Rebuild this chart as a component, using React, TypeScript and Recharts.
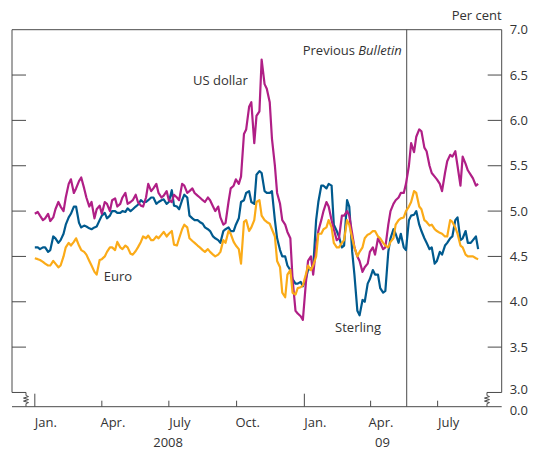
import React from 'react'
import { LineChart, Line, XAxis, YAxis, ReferenceLine, ReferenceDot } from 'recharts'

// x = days since 1 Jan 2008, y = per cent
// readings taken once a week, plus a second reading in mid-week
const days = [
  0, 7, 14, 21, 28, 35, 42, 49, 56, 63, 70, 77, 84, 91, 98, 105, 112, 119, 126, 133,
  140, 147, 154, 161, 168, 175, 182, 189, 196, 203, 210, 217, 224, 231, 238, 245, 252, 259, 266, 273,
  280, 287, 294, 301, 308, 315, 322, 329, 336, 343, 350, 357, 364, 371, 378, 385, 392, 399, 406, 413,
  420, 427, 434, 441, 448, 455, 462, 469, 476, 483, 490, 497, 504, 511, 518, 525, 532, 539, 546, 553,
  560, 567, 574, 581, 588, 595, 602,
]
const midDays = [
  4, 11, 18, 25, 32, 39, 46, 53, 60, 67, 74, 81, 88, 95, 102, 109, 116, 123, 130, 137,
  144, 151, 158, 165, 172, 179, 186, 193, 200, 207, 214, 221, 228, 235, 242, 249, 256, 263, 270, 277,
  284, 291, 298, 305, 312, 319, 326, 333, 340, 347, 354, 361, 368, 375, 382, 389, 396, 403, 410, 417,
  424, 431, 438, 445, 452, 459, 466, 473, 480, 487, 494, 501, 508, 515, 522, 529, 536, 543, 550, 557,
  564, 571, 578, 585, 592, 599,
]

const usDollar = [
  4.97, 4.95, 4.92, 4.89, 5.02, 5.05, 5.15, 5.35, 5.25, 5.37,
  5.15, 5.1, 5.02, 4.97, 5.08, 5.12, 5.05, 5.15, 5.08, 5.12,
  5.1, 5.05, 5.3, 5.25, 5.2, 5.17, 5.12, 5.18, 5.12, 5.28,
  5.22, 5.2, 5.15, 5.1, 5.12, 5.0, 4.93, 4.87, 5.25, 5.35,
  5.38, 5.9, 6.2, 6.05, 6.67, 6.35, 5.8, 5.2, 4.9, 4.77,
  4.25, 3.87, 3.8, 4.45, 4.3, 4.78, 5.0, 5.05, 4.8, 4.7,
  4.95, 4.95, 4.6, 4.45, 4.38, 4.55, 4.52, 4.65, 4.6, 5.0,
  5.12, 5.2, 5.3, 5.75, 5.82, 5.88, 5.66, 5.42, 5.35, 5.22,
  5.55, 5.6, 5.5, 5.6, 5.45, 5.36, 5.3,
]
const usDollarMid = [
  4.99, 4.9, 4.97, 4.93, 5.1, 5.0, 5.3, 5.2, 5.33, 5.25,
  5.05, 4.92, 5.06, 5.1, 5.0, 5.14, 5.08, 5.2, 5.1, 5.18,
  5.06, 5.15, 5.22, 5.3, 5.15, 5.22, 5.1, 5.15, 5.3, 5.2,
  5.25, 5.17, 5.12, 5.15, 5.05, 5.05, 4.85, 5.1, 5.28, 5.3,
  5.85, 6.15, 5.75, 6.1, 6.4, 6.2, 5.5, 5.08, 4.85, 4.7,
  3.9, 3.84, 4.2, 4.5, 4.6, 4.9, 5.1, 4.9, 4.68, 4.95,
  5.0, 4.75, 4.5, 4.33, 4.42, 4.6, 4.7, 4.58, 4.85, 5.08,
  5.15, 5.2, 5.5, 5.65, 5.9, 5.7, 5.5, 5.38, 5.3, 5.42,
  5.62, 5.66, 5.28, 5.52, 5.4, 5.28,
]

const sterling = [
  4.6, 4.58, 4.6, 4.57, 4.7, 4.68, 4.85, 4.97, 5.05, 4.82,
  4.83, 4.8, 4.83, 4.95, 4.92, 5.0, 4.98, 5.0, 5.03, 5.02,
  5.07, 5.1, 5.12, 5.15, 5.1, 5.13, 5.1, 5.06, 5.02, 5.18,
  4.95, 4.9, 4.88, 4.82, 4.78, 4.7, 4.65, 4.8, 4.78, 4.85,
  5.1, 5.2, 5.1, 5.4, 5.42, 5.2, 5.22, 4.7, 4.5, 4.4,
  4.25, 4.2, 4.17, 4.35, 4.38, 5.1, 5.28, 5.3, 4.85, 4.72,
  4.62, 5.05, 4.3, 3.85, 4.0, 4.25, 4.3, 4.15, 4.12, 4.7,
  4.75, 4.75, 4.57, 4.95, 5.0, 4.78, 4.65, 4.6, 4.45, 4.52,
  4.65, 4.72, 4.93, 4.7, 4.65, 4.68, 4.58,
]
const sterlingMid = [
  4.6, 4.6, 4.55, 4.72, 4.65, 4.75, 4.93, 5.05, 4.87, 4.84,
  4.81, 4.82, 4.9, 4.98, 4.95, 5.0, 4.98, 4.99, 5.0, 5.05,
  5.12, 5.1, 5.15, 5.08, 5.12, 5.08, 5.23, 5.05, 5.12, 5.15,
  4.92, 4.9, 4.86, 4.8, 4.72, 4.68, 4.78, 4.82, 4.78, 4.92,
  5.12, 5.22, 5.08, 5.44, 5.22, 5.2, 4.9, 4.57, 4.5, 4.35,
  4.2, 4.22, 4.25, 4.37, 4.9, 5.28, 5.25, 5.28, 4.78, 4.6,
  5.12, 4.55, 3.9, 4.02, 4.2, 4.35, 4.3, 4.1, 4.55, 4.8,
  4.65, 4.6, 4.9, 4.96, 4.85, 4.7, 4.58, 4.42, 4.55, 4.62,
  4.7, 4.9, 4.68, 4.78, 4.65, 4.72,
]

const euro = [
  4.48, 4.46, 4.42, 4.4, 4.42, 4.4, 4.6, 4.62, 4.7, 4.57,
  4.52, 4.4, 4.3, 4.47, 4.55, 4.6, 4.66, 4.58, 4.6, 4.52,
  4.6, 4.72, 4.73, 4.68, 4.7, 4.77, 4.75, 4.63, 4.7, 4.85,
  4.7, 4.65, 4.6, 4.55, 4.55, 4.5, 4.55, 4.65, 4.75, 4.62,
  4.42, 4.9, 4.82, 5.1, 4.95, 4.88, 4.8, 4.45, 4.1, 4.3,
  4.1, 4.15, 4.18, 4.4, 4.4, 4.75, 4.8, 4.9, 4.65, 4.6,
  4.68, 4.85, 4.6, 4.55, 4.7, 4.75, 4.78, 4.7, 4.62, 4.66,
  4.85, 4.92, 5.0, 5.1, 5.2, 5.02, 4.88, 4.85, 4.78, 4.75,
  4.72, 4.88, 4.75, 4.6, 4.5, 4.5, 4.47,
]
const euroMid = [
  4.47, 4.44, 4.4, 4.45, 4.38, 4.5, 4.65, 4.66, 4.62, 4.55,
  4.45, 4.33, 4.46, 4.5, 4.6, 4.57, 4.6, 4.62, 4.53, 4.56,
  4.66, 4.7, 4.68, 4.72, 4.74, 4.72, 4.78, 4.62, 4.8, 4.82,
  4.67, 4.62, 4.57, 4.58, 4.52, 4.52, 4.68, 4.78, 4.66, 4.58,
  4.88, 4.78, 4.9, 5.12, 4.9, 4.86, 4.72, 4.38, 4.05, 4.35,
  4.08, 4.16, 4.3, 4.35, 4.5, 4.75, 4.82, 4.82, 4.6, 4.65,
  4.9, 4.7, 4.5, 4.6, 4.74, 4.78, 4.72, 4.65, 4.6, 4.7,
  4.9, 4.93, 5.05, 5.22, 5.05, 4.9, 4.84, 4.8, 4.76, 4.72,
  4.9, 4.82, 4.62, 4.52, 4.5, 4.48,
]

// month starts get tick marks, mid-months carry the labels, years sit below
const monthStarts = [0, 91, 182, 274, 366, 456, 547]
const yearStarts = [0, 366]
const labelDays = [15, 106, 197, 289, 381, 470, 562]
const monthLabels = ['Jan.', 'Apr.', 'July', 'Oct.', 'Jan.', 'Apr.', 'July']
const yearDays = [181, 472]
const yearLabels = ['2008', '09']
const xTicks = [...monthStarts, ...labelDays, ...yearDays].sort((a, b) => a - b)

const valueTicks = [2.843, 3, 3.5, 4, 4.5, 5, 5.5, 6, 6.5, 7]
const innerTicks = [3.5, 4, 4.5, 5, 5.5, 6, 6.5]
const previousBulletin = 505

const X_MIN = -31
const X_MAX = 634
const Y_BREAK = 2.843

const INK = '#333333'
const RULE = '#4a4a4a'
const FONT = '"Open Sans", "Noto Sans", sans-serif'

const data = [
  ...days.map((d, i) => ({ d, usd: usDollar[i], gbp: sterling[i], eur: euro[i] })),
  ...midDays.map((d, i) => ({ d, usd: usDollarMid[i], gbp: sterlingMid[i], eur: euroMid[i] })),
].sort((a, b) => a.d - b.d)

function DateTick({ x, y, payload }: any) {
  const v = payload.value
  if (monthStarts.includes(v)) {
    const len = yearStarts.includes(v) ? 13 : 6
    return <line x1={x} x2={x} y1={y} y2={y - len} stroke={RULE} />
  }
  const l = labelDays.indexOf(v)
  if (l >= 0) {
    return (
      <text x={x} y={y + 20.5} textAnchor="middle" fill={INK} fontSize={13} fontFamily={FONT}>
        {monthLabels[l]}
      </text>
    )
  }
  return (
    <text x={x} y={y + 40.5} textAnchor="middle" fill={INK} fontSize={13} fontFamily={FONT}>
      {yearLabels[yearDays.indexOf(v)]}
    </text>
  )
}

function ValueTick({ x, y, payload }: any) {
  const v = payload.value
  // 3.0 and 0.0 are nudged apart either side of the break
  const nudge = v === Y_BREAK ? 3.5 : v === 3 ? -2.5 : 0
  return (
    <g>
      {innerTicks.includes(v) && <line x1={x - 14} x2={x} y1={y} y2={y} stroke={RULE} />}
      <text x={x + 8} y={y + 4.5 + nudge} fill={INK} fontSize={13} fontFamily={FONT}>
        {v === Y_BREAK ? '0.0' : v.toFixed(1)}
      </text>
    </g>
  )
}

function LeftTick({ x, y }: any) {
  return <line x1={x} x2={x + 14} y1={y} y2={y} stroke={RULE} />
}

// axis-break squiggle between the 3.0 level and the zero line
function Zig(p: any) {
  const { x1, y1, y2 } = p
  const m = (y1 + y2) / 2
  const pts = [
    [x1, y1], [x1, m - 4], [x1 + 2.5, m - 3], [x1 - 2.5, m - 1.5], [x1 + 2.5, m],
    [x1 - 2.5, m + 1.5], [x1 + 2.5, m + 3], [x1, m + 4], [x1, y2],
  ]
  return <polyline points={pts.map(q => q.join(',')).join(' ')} fill="none" stroke={RULE} />
}

const note = (text: React.ReactNode, anchor: 'start' | 'middle' | 'end', dx = 0, dy = 4.5) =>
  (props: any) => {
    const { x, y } = props.viewBox
    return (
      <text x={x + dx} y={y + dy} textAnchor={anchor} fill={INK} fontSize={13} fontFamily={FONT}>
        {text}
      </text>
    )
  }

const ids = { xAxisId: 'm', yAxisId: 'v' }

export default function App() {
  return (
    <div style={{ position: 'absolute', left: 0, top: 0, background: '#fff' }}>
      <LineChart width={533} height={450} data={data} margin={{ top: 29.7, right: 0, bottom: 0, left: 0 }}>
        <XAxis
          xAxisId="m"
          dataKey="d"
          type="number"
          domain={[X_MIN, X_MAX]}
          allowDataOverflow
          ticks={xTicks}
          interval={0}
          height={43.3}
          tickSize={0}
          tickMargin={0}
          tickLine={false}
          axisLine={{ stroke: RULE }}
          tick={<DateTick />}
        />
        <YAxis
          yAxisId="l"
          orientation="left"
          type="number"
          domain={[Y_BREAK, 7]}
          allowDataOverflow
          ticks={innerTicks}
          interval={0}
          width={12}
          tickSize={0}
          tickMargin={0}
          tickLine={false}
          axisLine={false}
          tick={<LeftTick />}
        />
        <YAxis
          yAxisId="v"
          orientation="right"
          type="number"
          domain={[Y_BREAK, 7]}
          allowDataOverflow
          ticks={valueTicks}
          interval={0}
          width={31.3}
          tickSize={0}
          tickMargin={0}
          tickLine={false}
          axisLine={false}
          tick={<ValueTick />}
        />

        {/* frame with axis breaks */}
        <ReferenceLine {...ids} y={7} stroke={RULE} ifOverflow="visible" />
        <ReferenceLine {...ids} segment={[{ x: X_MIN, y: 7 }, { x: X_MIN, y: 3 }]} stroke={RULE} ifOverflow="visible" />
        <ReferenceLine {...ids} segment={[{ x: X_MIN, y: 3 }, { x: -12, y: 3 }]} stroke={RULE} ifOverflow="visible" />
        <ReferenceLine {...ids} segment={[{ x: -12, y: 3 }, { x: -12, y: Y_BREAK }]} stroke={RULE} ifOverflow="visible" shape={Zig} />
        <ReferenceLine {...ids} segment={[{ x: X_MAX, y: 7 }, { x: X_MAX, y: 3 }]} stroke={RULE} ifOverflow="visible" />
        <ReferenceLine {...ids} segment={[{ x: X_MAX, y: 3 }, { x: 614, y: 3 }]} stroke={RULE} ifOverflow="visible" />
        <ReferenceLine {...ids} segment={[{ x: 614, y: 3 }, { x: 614, y: Y_BREAK }]} stroke={RULE} ifOverflow="visible" shape={Zig} />

        <ReferenceLine
          {...ids}
          x={previousBulletin}
          stroke={RULE}
          ifOverflow="visible"
          label={note(<>Previous <tspan fontStyle="italic">Bulletin</tspan></>, 'end', -5, 25)}
        />

        <Line {...ids} dataKey="gbp" stroke="#005a8e" strokeWidth={2.2} strokeLinejoin="round" dot={false} isAnimationActive={false} />
        <Line {...ids} dataKey="usd" stroke="#b01f86" strokeWidth={2.2} strokeLinejoin="round" dot={false} isAnimationActive={false} />
        <Line {...ids} dataKey="eur" stroke="#fbab18" strokeWidth={2.2} strokeLinejoin="round" dot={false} isAnimationActive={false} />

        <ReferenceDot {...ids} x={252} y={6.44} r={0} ifOverflow="visible" label={note('US dollar', 'middle')} />
        <ReferenceDot {...ids} x={113} y={4.284} r={0} ifOverflow="visible" label={note('Euro', 'middle')} />
        <ReferenceDot {...ids} x={439} y={3.72} r={0} ifOverflow="visible" label={note('Sterling', 'middle')} />
        <ReferenceDot {...ids} x={X_MAX} y={7} r={0} ifOverflow="visible" label={note('Per cent', 'end', 0, -9.5)} />
      </LineChart>
    </div>
  )
}
